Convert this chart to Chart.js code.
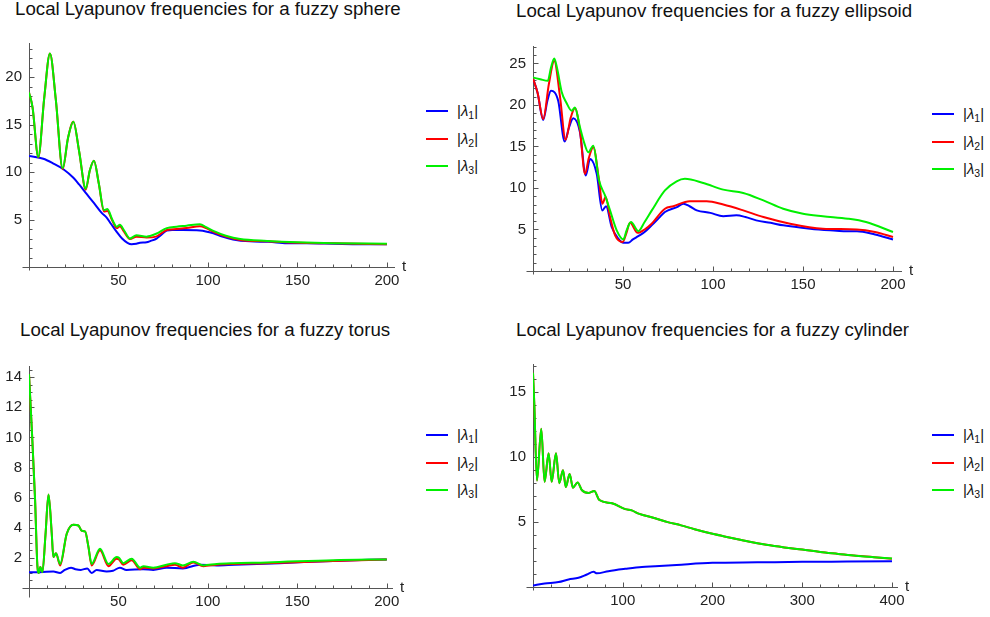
<!DOCTYPE html>
<html>
<head>
<meta charset="utf-8">
<script src="https://cdn.jsdelivr.net/npm/chart.js@4"></script>
<style>
  body { margin: 0; background: #fff; width: 990px; height: 617px; position: relative; overflow: hidden;
         font-family: "Liberation Sans", Arial, sans-serif; color: #111; }
  canvas { position: absolute; }
  .title { position: absolute; font-size: 18.7px; line-height: 20px; white-space: nowrap; }
  .leg { position: absolute; font-size: 15px; line-height: 18px; white-space: nowrap; }
  .leg .ln { position: absolute; top: 8px; height: 2px; width: 22px; }
  .leg .tx { position: absolute; left: 31px; top: 0; }
  .leg sub { font-size: 10.5px; vertical-align: -3px; line-height: 0; }
</style>
</head>
<body>
<div class="title" style="left:15px;top:-1px">Local Lyapunov frequencies for a fuzzy sphere</div>
<div class="title" style="left:516px;top:1px">Local Lyapunov frequencies for a fuzzy ellipsoid</div>
<div class="title" style="left:20px;top:320px">Local Lyapunov frequencies for a fuzzy torus</div>
<div class="title" style="left:516px;top:320px">Local Lyapunov frequencies for a fuzzy cylinder</div>

<canvas id="sphere"></canvas>
<canvas id="ellipsoid"></canvas>
<canvas id="torus"></canvas>
<canvas id="cylinder"></canvas>

<script>
// series labels and colours
const seriesNames = ['|λ1|', '|λ2|', '|λ3|'];
const seriesColors = ['#0000ff', '#ff0000', '#00f000'];

// fuzzy sphere, [t, value]
const sphereL1 = [[0,11.7],[8,11.4],[13.6,10.9],[19.2,10.3],[24.8,9.4],[28,8.7],[32.2,7.7],[36,6.8],[40.6,5.7],[43.4,5.2],[46,4.5],[49,3.7],[52,3.0],[55,2.55],[57.3,2.4],[60,2.45],[62,2.55],[65.7,2.6],[68,2.75],[71.3,3.0],[74,3.4],[77,3.85],[80,3.9],[86,3.9],[95.5,3.85],[103,3.55],[108,3.2],[114,2.9],[123.5,2.7],[134,2.65],[144,2.5],[155,2.5],[170,2.45],[185,2.4],[200,2.4]];
const sphereL2 = [[0,18.4],[2,16.8],[5.2,11.55],[8.5,17.8],[11.7,22.5],[15,17.6],[18.8,10.3],[21.8,13.6],[24.8,15.3],[28,12.2],[31.7,8.15],[34,10.2],[36.3,11.2],[39,8.8],[41.9,5.85],[43.8,5.9],[46.5,4.9],[49,4.1],[50.8,4.3],[53,3.75],[56.4,2.95],[60,3.2],[65.7,3.1],[71,3.2],[77,3.9],[82.5,4.0],[88,4.1],[95.5,4.3],[99,4.1],[103,3.7],[110,3.2],[118,2.85],[133,2.7],[150,2.55],[170,2.5],[200,2.4]];
const sphereL3 = [[0,18.4],[2,16.8],[5.2,11.6],[8.5,17.8],[11.7,22.5],[15,17.6],[18.8,10.4],[21.8,13.6],[24.8,15.3],[28,12.2],[31.7,8.25],[34,10.2],[36.3,11.2],[39,8.8],[41.9,6.0],[43.8,6.1],[46.5,5.0],[49,4.25],[50.8,4.45],[53,3.9],[56.4,3.0],[60,3.35],[65.7,3.2],[71,3.5],[77,4.1],[82.5,4.25],[88,4.35],[95.5,4.5],[99,4.2],[103,3.8],[110,3.3],[118,2.95],[133,2.75],[150,2.6],[170,2.5],[200,2.45]];

// fuzzy ellipsoid
const ellipsoidL1 = [[0,23.2],[2.5,21.5],[5.7,18.2],[8,20.5],[10,21.7],[14,20.5],[17.6,15.6],[20,17.3],[22.4,18.4],[26.1,16.7],[29.3,11.5],[31.7,13.5],[35.4,11.7],[38.5,7.3],[40.6,7.8],[43.7,5.3],[47.4,3.9],[50.2,3.4],[52.9,3.4],[55.5,3.8],[58.5,4.2],[62,4.7],[65.9,5.5],[70,6.4],[73.3,7.1],[80,7.7],[83.5,8.1],[87,7.8],[91,7.3],[98.5,7.0],[105.7,6.6],[113,6.7],[118,6.5],[124,6.1],[132,5.8],[139,5.5],[154,5.1],[165,4.9],[172.6,4.8],[180,4.8],[190,4.4],[200,3.8]];
const ellipsoidL2 = [[0,23.2],[2.5,21.5],[5.7,18.3],[8.8,22.5],[11.8,25.3],[15,21],[18.1,15.8],[21,18.5],[23.3,19.6],[26.1,16.9],[28.9,11.7],[31,13.6],[33.5,14.9],[36.7,10.9],[38.5,8.1],[40.4,8.9],[42.8,6.5],[45.6,4.3],[49.8,3.5],[51.8,4.5],[53.9,5.8],[58.1,4.6],[62,5.0],[65.9,5.7],[73.3,7.5],[78,7.8],[87,8.4],[96.5,8.4],[105.7,8.0],[116.8,7.3],[128,6.5],[142.8,5.7],[161,5.1],[179.8,5.0],[190,4.7],[200,4.1]];
const ellipsoidL3 = [[0,23.3],[4,23.1],[8.2,22.9],[10,24.5],[11.8,25.6],[13.5,24.3],[15.9,21.6],[18.5,20.3],[21.5,19.3],[23.3,19.7],[26.1,17.3],[28.5,15.4],[30.7,14.3],[33.5,15.1],[36.7,10.9],[40,9.1],[42.8,7.3],[46.5,4.9],[50.2,3.8],[52,4.9],[54.4,5.9],[58.5,4.8],[62,5.9],[66,7.3],[73.3,9.7],[79.8,10.8],[84.4,11.1],[94.6,10.6],[105.7,9.8],[116.8,9.4],[128,8.5],[139,7.5],[150,6.9],[161,6.6],[175,6.3],[185,5.9],[200,4.7]];

// fuzzy torus
const torusL1 = [[0,1.05],[6,1.05],[13.6,1.1],[17.4,1.0],[20,1.2],[23.5,1.35],[26,1.25],[29,1.2],[32.6,1.3],[35,1.0],[37.8,1.2],[43.4,1.1],[47,1.15],[50.8,1.35],[54.5,1.2],[63.8,1.25],[69.5,1.2],[77,1.35],[86,1.3],[95.6,1.55],[105,1.5],[115,1.55],[140,1.65],[170,1.8],[200,1.9]];
const torusL2 = [[0,14.2],[1.5,10.7],[3.4,5.85],[4.7,1.45],[5.5,1.0],[6.3,1.4],[7.5,1.05],[9.2,3.5],[10.9,6.2],[12.7,3.65],[13.6,2.05],[15.1,2.3],[17.4,1.5],[21.1,3.6],[24.8,4.2],[27.6,4.15],[29.5,3.8],[31.4,3.75],[33.2,2.75],[35,1.5],[39.7,2.5],[44.4,1.45],[49,1.95],[50.3,1.9],[52.7,1.55],[57.4,1.85],[62.1,1.25],[64,1.35],[69.5,1.3],[76.9,1.45],[81.6,1.55],[86,1.35],[91.9,1.7],[97.5,1.45],[105,1.55],[114,1.6],[133,1.65],[170,1.8],[200,1.9]];
const torusL3 = [[0,14.2],[1.5,10.7],[3.4,5.85],[4.7,1.45],[5.5,1.0],[6.3,1.4],[7.5,1.05],[9.2,3.5],[10.9,6.2],[12.7,3.65],[13.6,2.05],[15.1,2.3],[17.4,1.6],[21.1,3.6],[24.8,4.2],[27.6,4.15],[29.5,3.8],[31.4,3.75],[33.2,2.75],[35,1.6],[39.7,2.6],[44.4,1.6],[49,2.05],[50.3,2.0],[52.7,1.65],[57.4,1.95],[62.1,1.35],[64,1.45],[69.5,1.35],[76.9,1.55],[81.6,1.65],[86,1.5],[91.9,1.75],[97.5,1.5],[105,1.6],[114,1.65],[133,1.7],[170,1.85],[200,1.9]];

// fuzzy cylinder
const cylinderL1 = [[0,0.12],[13,0.27],[28.5,0.38],[39.6,0.58],[50.7,0.71],[60,0.96],[67.5,1.17],[71.2,1.05],[84,1.22],[102.8,1.4],[121.4,1.55],[136,1.6],[160,1.7],[200,1.86],[250,1.9],[300,1.94],[350,1.96],[400,1.98]];
const cylinderL2 = [[0,16.5],[1.5,14],[4.4,8.2],[9.2,12.2],[12.9,8.1],[17.4,10.3],[20.8,8.1],[25.6,10.3],[29.3,8.0],[33.4,9.0],[36.6,7.7],[40.8,8.7],[44.5,7.65],[49.7,8.05],[54.6,7.45],[62,7.25],[68.3,7.4],[73.9,6.7],[88,6.45],[102.8,6.0],[110,5.9],[117.7,5.65],[136,5.3],[150,5.0],[165,4.75],[180,4.45],[200,4.1],[220,3.8],[240,3.5],[260,3.25],[280,3.05],[300,2.88],[320,2.7],[340,2.55],[360,2.4],[380,2.3],[400,2.18]];
const cylinderL3 = [[0,16.5],[1.5,14],[4.4,8.2],[9.2,12.2],[12.9,8.1],[17.4,10.3],[20.8,8.1],[25.6,10.3],[29.3,8.0],[33.4,9.0],[36.6,7.7],[40.8,8.7],[44.5,7.65],[49.7,8.05],[54.6,7.45],[62,7.25],[68.3,7.4],[73.9,6.7],[88,6.45],[102.8,6.0],[110,5.9],[117.7,5.65],[136,5.3],[150,5.0],[165,4.75],[180,4.45],[200,4.1],[220,3.8],[240,3.5],[260,3.25],[280,3.05],[300,2.88],[320,2.7],[340,2.55],[360,2.4],[380,2.3],[400,2.2]];

// tick labels
const tLabels200 = [50, 100, 150, 200];
const tLabels400 = [100, 200, 300, 400];
const sphereYLabels = [5, 10, 15, 20];
const ellipsoidYLabels = [5, 10, 15, 20, 25];
const torusYLabels = [2, 4, 6, 8, 10, 12, 14];
const cylinderYLabels = [5, 10, 15];

Chart.defaults.font.family = '"Liberation Sans", Arial, sans-serif';
Chart.defaults.font.size = 15;
Chart.defaults.color = '#222';

// mathematica style axes: lines through the origin, inward ticks, "t" label
const mmaAxes = {
  id: 'mmaAxes',
  beforeDatasetsDraw(chart, args, o) {
    const {ctx, chartArea} = chart;
    const xs = chart.scales.x, ys = chart.scales.y;
    const x0 = Math.round(xs.getPixelForValue(0)) + 0.5;
    const y0 = Math.round(ys.getPixelForValue(0)) + 0.5;
    ctx.save();
    ctx.strokeStyle = '#555';
    ctx.lineWidth = 1;
    ctx.beginPath();
    ctx.moveTo(x0 - 7, y0); ctx.lineTo(chartArea.right, y0);
    ctx.moveTo(x0, y0 + o.extB); ctx.lineTo(x0, chartArea.top);
    for (let i = 1; i * o.xMinor <= xs.max; i++) {
      const v = i * o.xMinor;
      const major = Math.abs(v / o.xMajor - Math.round(v / o.xMajor)) < 1e-6;
      const px = Math.round(xs.getPixelForValue(v)) + 0.5;
      ctx.moveTo(px, y0); ctx.lineTo(px, y0 - (major ? 5 : 3));
    }
    for (let i = 1; i * o.yMinor <= ys.max; i++) {
      const v = i * o.yMinor;
      const major = Math.abs(v / o.yMajor - Math.round(v / o.yMajor)) < 1e-6;
      const py = Math.round(ys.getPixelForValue(v)) + 0.5;
      ctx.moveTo(x0, py); ctx.lineTo(x0 + (major ? 5 : 3), py);
    }
    ctx.stroke();
    ctx.fillStyle = '#222';
    ctx.font = '15px "Liberation Sans", Arial, sans-serif';
    ctx.textBaseline = 'middle';
    ctx.fillText('t', chartArea.right + 7, y0 - 1);
    ctx.restore();
  }
};

function panel(id, area, xMax, yMax, xLabels, yLabels, ticks, l1, l2, l3) {
  const yw = 40, pt = 15, pr = 25, xh = 30;
  const cv = document.getElementById(id);
  const L = area.left - yw, T = area.top - pt;
  cv.width = area.right - L + pr;
  cv.height = area.bottom - T + xh;
  cv.style.left = L + 'px';
  cv.style.top = T + 'px';
  const toXY = arr => arr.map(p => ({x: p[0], y: p[1]}));
  const ds = (name, data, color, order) => ({
    label: name, data: toXY(data), borderColor: color, borderWidth: 2,
    pointRadius: 0, fill: false, cubicInterpolationMode: 'monotone', order: order
  });
  return new Chart(cv, {
    type: 'line',
    data: {
      datasets: [
        ds(seriesNames[0], l1, seriesColors[0], 2),
        ds(seriesNames[1], l2, seriesColors[1], 1),
        ds(seriesNames[2], l3, seriesColors[2], 0)
      ]
    },
    options: {
      responsive: false,
      animation: false,
      devicePixelRatio: 1,
      layout: { padding: { left: 0, top: pt, right: pr, bottom: 0 } },
      plugins: {
        legend: { display: false },
        tooltip: { enabled: false },
        mmaAxes: ticks
      },
      scales: {
        x: {
          type: 'linear', min: 0, max: xMax,
          grid: { display: false, drawTicks: false },
          border: { display: false },
          afterFit: s => { s.height = xh; },
          afterBuildTicks: s => { s.ticks = xLabels.map(v => ({value: v})); },
          ticks: { autoSkip: false, maxRotation: 0, padding: 5 }
        },
        y: {
          type: 'linear', min: 0, max: yMax,
          grid: { display: false, drawTicks: false },
          border: { display: false },
          afterFit: s => { s.width = yw; },
          afterBuildTicks: s => { s.ticks = yLabels.map(v => ({value: v})); },
          ticks: { autoSkip: false, padding: 7 }
        }
      }
    },
    plugins: [mmaAxes]
  });
}

panel('sphere', {left: 29, right: 395, top: 42, bottom: 267}, 204.5, 23.6, tLabels200, sphereYLabels,
  {xMajor: 50, xMinor: 10, yMajor: 5, yMinor: 1, extB: 3}, sphereL1, sphereL2, sphereL3);
panel('ellipsoid', {left: 533, right: 902, top: 45, bottom: 271}, 205, 27.1, tLabels200, ellipsoidYLabels,
  {xMajor: 50, xMinor: 10, yMajor: 5, yMinor: 1, extB: 3}, ellipsoidL1, ellipsoidL2, ellipsoidL3);
panel('torus', {left: 29, right: 393, top: 365, bottom: 588}, 203.5, 14.74, tLabels200, torusYLabels,
  {xMajor: 50, xMinor: 10, yMajor: 2, yMinor: 0.5, extB: 9}, torusL1, torusL2, torusL3);
panel('cylinder', {left: 533, right: 898, top: 363, bottom: 587}, 406.7, 17.18, tLabels400, cylinderYLabels,
  {xMajor: 100, xMinor: 20, yMajor: 5, yMinor: 1, extB: 3}, cylinderL1, cylinderL2, cylinderL3);

// legends, html text beside each panel
function legend(left, top) {
  const box = document.createElement('div');
  box.className = 'leg';
  box.style.left = left + 'px';
  box.style.top = top + 'px';
  seriesNames.forEach((n, i) => {
    const row = document.createElement('div');
    row.style.position = 'absolute';
    row.style.top = (i * 27.7) + 'px';
    row.innerHTML = '<div class="ln" style="background:' + seriesColors[i] + '"></div>' +
      '<div class="tx">|<i>λ</i><sub>' + n.charAt(2) + '</sub>|</div>';
    box.appendChild(row);
  });
  document.body.appendChild(box);
}
legend(426, 102);
legend(932, 105);
legend(426, 426);
legend(932, 426);
</script>
</body>
</html>
